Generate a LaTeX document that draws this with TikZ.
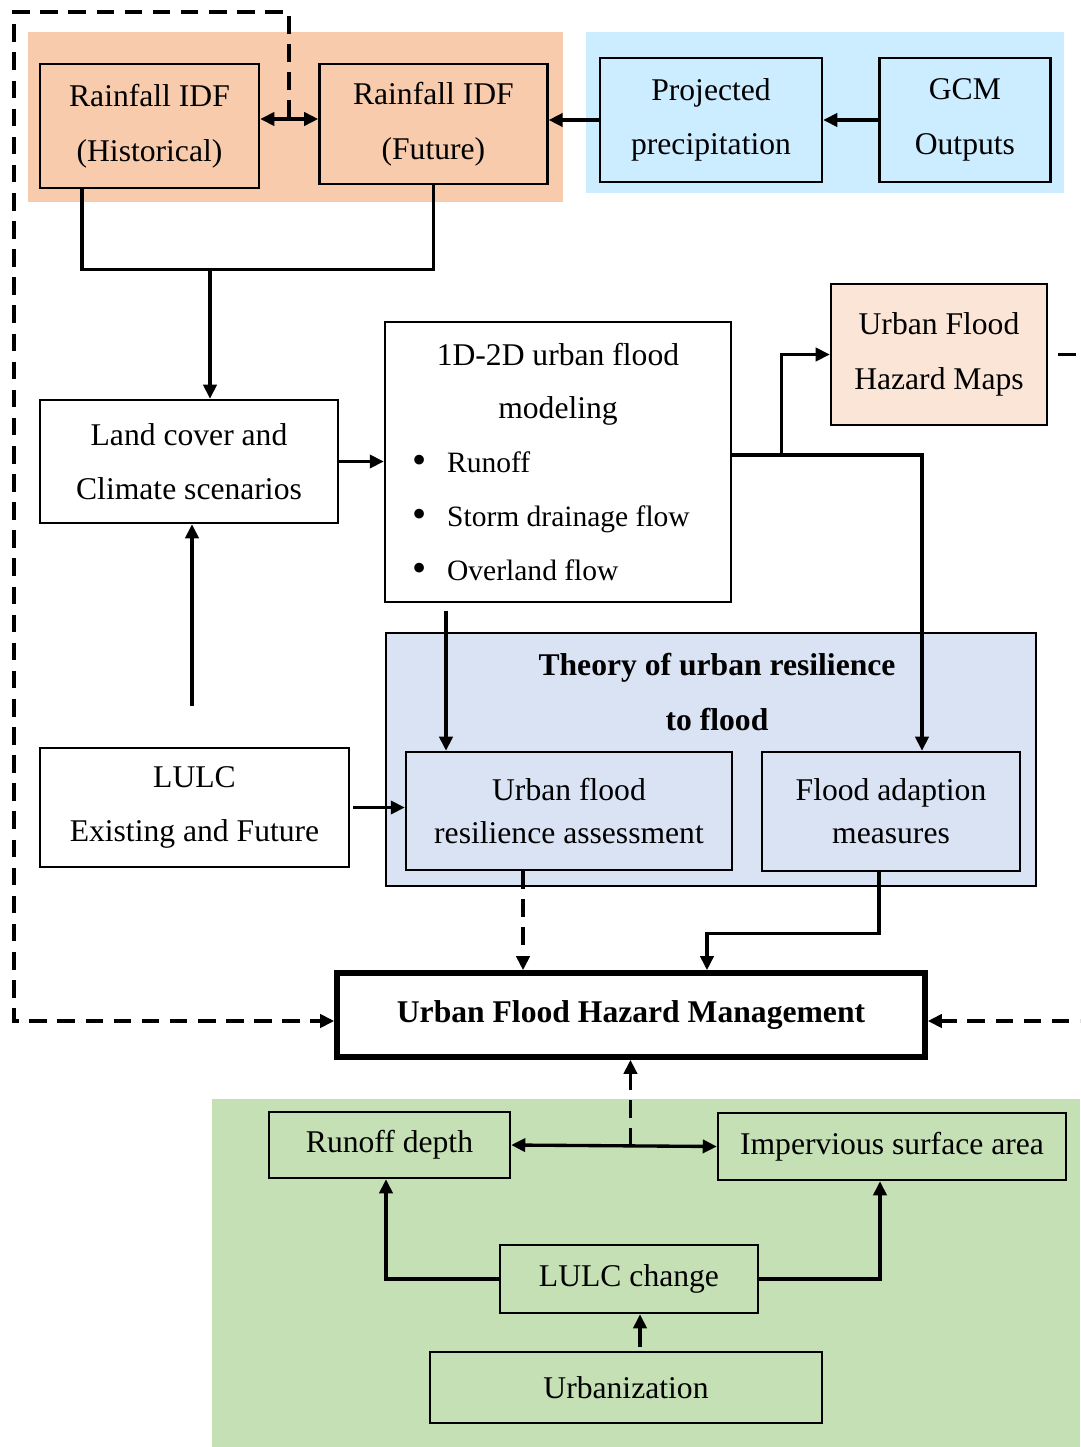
\documentclass[tikz,border=0pt]{standalone}
\usepackage{fontspec}
\setmainfont{Liberation Serif}
\usepackage{tikz}
\usetikzlibrary{arrows.meta,positioning,calc}

\definecolor{idforange}{HTML}{F8CBAD}
\definecolor{gcmblue}{HTML}{CCECFF}
\definecolor{mapspeach}{HTML}{FBE5D6}
\definecolor{theoryblue}{HTML}{DAE3F3}
\definecolor{lulcgreen}{HTML}{C5E0B4}

\newcommand{\bulletline}[1]{\makebox[5.84cm][l]{\raisebox{-0.6pt}{\fontsize{23}{30.6}\selectfont\textbullet}\hspace{0.42cm}{\fontsize{16.8}{30.6}\selectfont #1}}}

\tikzset{
  >={Triangle[length=8pt,width=7.5pt]},
  rectbox/.style args={#1,#2}{
  draw=black,
  line width=1.4pt,
  align=center,
  inner sep=0pt,
  font=\fontsize{18}{31}\selectfont,
  minimum width=#1 cm,
  minimum height=#2 cm,
  },
  mgmtbox/.style args={#1,#2}{
  rectbox={#1,#2},
  line width=3.2pt,
  font=\fontsize{18}{31}\selectfont\bfseries,
  },
  tight/.style={font=\fontsize{18}{24.5}\selectfont},
  link/.style={line width=1.9pt},
  dlink/.style={link,line width=2.1pt,dash pattern=on 10pt off 6pt}
}

\begin{document}
\begin{tikzpicture}[x=0.02cm,y=-0.02cm]
  \useasboundingbox (0,0) rectangle (1080,1447);
  \clip (0,0) rectangle (1080,1447);

  % coloured areas
  \fill[idforange] (28,32) rectangle (563,202);
  \fill[gcmblue] (586,32) rectangle (1064,193);
  \fill[lulcgreen] (212,1099) rectangle (1080,1447);

  % rainfall and climate inputs
  \node [rectbox={4.38,2.48}] (hist) at (149.5,126) {Rainfall IDF\\(Historical)};
  \node [rectbox={4.56,2.40},right=1.16cm of hist,yshift=0.04cm] (fut) {Rainfall IDF\\(Future)};
  \node [rectbox={4.44,2.48}] (proj) at (711,120) {Projected\\precipitation};
  \node [rectbox={3.42,2.48},right=1.1cm of proj] (gcm) {GCM\\Outputs};

  \node [rectbox={5.96,2.46}] (land) at (189,461.5) {Land cover and\\Climate scenarios};
  \node [rectbox={6.92,5.60},font=\fontsize{18}{30.6}\selectfont] (model) at (558,462)
        {1D-2D urban flood\\modeling\\\bulletline{Runoff}\\\bulletline{Storm drainage flow}\\\bulletline{Overland flow}};
  \node [rectbox={4.32,2.82},fill=mapspeach] (maps) at (939,354.5) {Urban Flood\\Hazard Maps};
  \node [rectbox={6.18,2.38}] (lulc) at (194.5,807.5) {LULC\\Existing and Future};

  % resilience block
  \node [rectbox={13.0,5.06},fill=theoryblue] (theory) at (711,759.5) {};
  \node [font=\fontsize{18}{31}\selectfont\bfseries,align=center] (thtitle) at (717,692) {Theory of urban resilience\\to flood};
  \node [rectbox={6.52,2.36},tight] (ufra) at (569,811) {Urban flood\\resilience assessment};
  \node [rectbox={5.16,2.38},tight] (fam) at (891,811.5) {Flood adaption\\measures};

  \node [mgmtbox={11.76,1.68}] (ufhm) at (631,1015) {Urban Flood Hazard Management};

  % land use block
  \node [rectbox={4.82,1.32}] (rod) at (389.5,1145) {Runoff depth};
  \node [rectbox={6.96,1.34}] (isa) at (892,1146.5) {Impervious surface area};
  \node [rectbox={5.16,1.36}] (lulcc) at (629,1279) {LULC change};
  \node [rectbox={7.84,1.42}] (urb) at (626,1387.5) {Urbanization};

  \coordinate (idfjoin) at (210,268);
  \coordinate (idfmid) at ([yshift=0.14cm]$(hist.east)!0.5!(fut.west)$);
  \coordinate (loopnw) at (14,12);
  \coordinate (loopse) at (1110,1021);
  \coordinate (rmid) at ($(rod.east)!0.58!(isa.west)$);

  % connectors
  \draw [link,<->] ([yshift=0.14cm]hist.east) -- ([yshift=0.14cm]hist.east -| fut.west);
  \draw [link,->] (proj.west) -- (proj.west -| fut.east);
  \draw [link,->] (gcm.west) -- (proj.east);
  \draw [link] ([xshift=-1.35cm]hist.south) -- ++(0,80) -| (fut.south);
  \draw [link,->] (idfjoin) -- (idfjoin |- land.north);
  \draw [link,->] (land.east) -- (land.east -| model.west);
  \draw [link,->,shorten <=0.82cm] ([xshift=-0.05cm]lulc.north) -- ([xshift=-0.05cm]lulc.north |- land.south);
  \draw [link,->,shorten <=0.06cm] (lulc.east) -- (lulc.east -| ufra.west);
  \draw [link,->] ([yshift=0.14cm]model.east) -| ([xshift=0.62cm]fam.north);
  \draw [link,->] ([yshift=0.14cm,xshift=0.98cm]model.east) |- (maps.west);
  \draw [link,->,shorten <=0.16cm] ([xshift=-2.24cm]model.south) -- ([xshift=-2.24cm]model.south |- ufra.north);
  \draw [dlink,->] ([xshift=-0.92cm]ufra.south) -- ([xshift=-0.92cm]ufra.south |- ufhm.north);
  \draw [link,->] ([xshift=-0.24cm]fam.south) -- ++(0,61) -| ([xshift=1.52cm]ufhm.north);

  \draw [dlink,->] (idfmid) |- (loopnw) |- ([yshift=-0.12cm]ufhm.west);
  \draw [dlink,->,shorten <=0.2cm] (maps.east) -| (loopse) |- ([yshift=-0.12cm]ufhm.east);

  \draw [link,<->] (rod.east) -- (isa.west);
  \draw [dlink,->] (rmid) -- (rmid |- ufhm.south);
  \draw [link,->] (lulcc.west) -| ([xshift=-0.07cm]rod.south);
  \draw [link,->] (lulcc.east) -| ([xshift=-0.24cm]isa.south);
  \draw [link,->,shorten <=0.08cm] ([xshift=0.28cm]urb.north) -- ([xshift=0.28cm]urb.north |- lulcc.south);
\end{tikzpicture}
\end{document}
